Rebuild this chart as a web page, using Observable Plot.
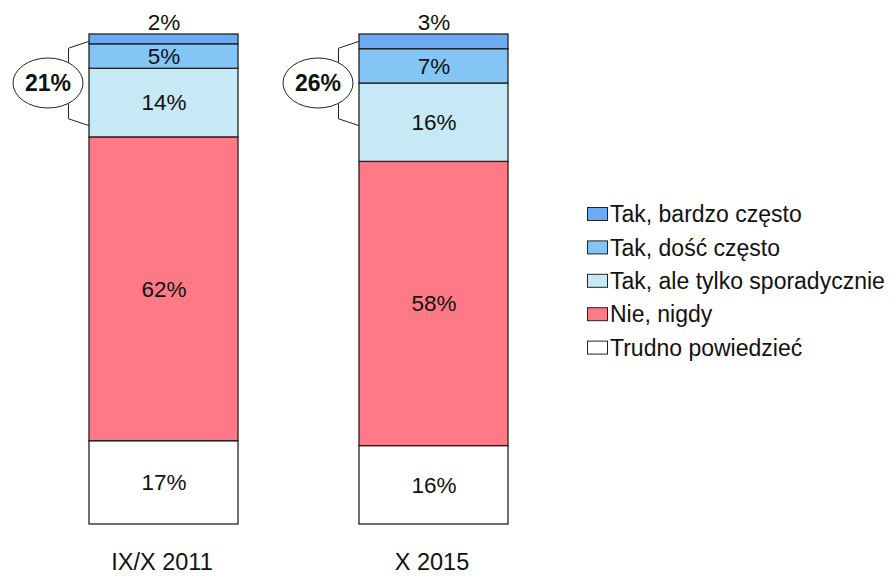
<!DOCTYPE html>
<html>
<head>
<meta charset="utf-8">
<script src="https://cdn.jsdelivr.net/npm/d3@7"></script>
<script src="https://cdn.jsdelivr.net/npm/@observablehq/plot@0.6"></script>
<style>
  html, body { margin: 0; padding: 0; background: #fff; }
  #chart { position: relative; width: 895px; height: 580px; }
  svg { font-family: "Liberation Sans", Arial, sans-serif; }
</style>
</head>
<body>
<div id="chart"></div>
<script>
const categories = ["IX/X 2011", "X 2015"];
const answers = ["Trudno powiedzieć", "Nie, nigdy", "Tak, ale tylko sporadycznie", "Tak, dość często", "Tak, bardzo często"];
const values2011 = [17, 62, 14, 5, 2];
const values2015 = [16, 58, 16, 7, 3];
const totals = [21, 26];
const colors = ["#ffffff", "#ff7a86", "#c6e9f5", "#84c5f5", "#6eaaf1"];
const legendOrder = ["Tak, bardzo często", "Tak, dość często", "Tak, ale tylko sporadycznie", "Nie, nigdy", "Trudno powiedzieć"];

const seriesByCat = [values2011, values2015];
const data = [];
categories.forEach((c, i) => {
  answers.forEach((a, j) => data.push({period: c, answer: a, value: seriesByCat[i][j]}));
});
const topAnswer = answers[answers.length - 1];
const inner = data.filter(d => d.answer !== topAnswer);
const tops = data.filter(d => d.answer === topAnswer);

const plot = Plot.plot({
  width: 895,
  height: 580,
  marginTop: 34,
  marginBottom: 56,
  marginLeft: 0,
  marginRight: 0,
  style: {fontFamily: '"Liberation Sans", Arial, sans-serif', background: "#fff"},
  x: {domain: categories, range: [88, 508], paddingInner: 0.45, paddingOuter: 0, axis: null},
  y: {domain: [0, 100], axis: null},
  color: {domain: answers, range: colors},
  marks: [
    Plot.barY(data, {x: "period", y: "value", fill: "answer", stroke: "#222", strokeWidth: 1.3, inset: 0}),
    Plot.text(inner, Plot.stackY({x: "period", y: "value", z: "period", text: d => d.value + "%", fontSize: 22.5, fill: "#111"})),
    Plot.text(tops, {x: "period", y: () => 100, text: d => d.value + "%", dy: -12, fontSize: 22.5, fill: "#111"}),
    Plot.text(categories, {x: d => d, frameAnchor: "bottom", dy: 45.5, dx: -2, text: d => d, fontSize: 23.5, fill: "#111"})
  ]
});

document.getElementById("chart").appendChild(plot);

const xs = plot.scale("x");
const ys = plot.scale("y");
const svg = d3.select(plot);
const ann = svg.append("g");
categories.forEach((c, i) => {
  const xl = xs.apply(c);
  const path = d3.path();
  path.moveTo(xl, ys.apply(98.5));
  path.lineTo(xl - 20.5, ys.apply(97.1));
  path.lineTo(xl - 20.5, ys.apply(82.7));
  path.lineTo(xl, ys.apply(81.3));
  ann.append("path").attr("d", path.toString()).attr("fill", "none").attr("stroke", "#222").attr("stroke-width", 1);
  const cx = xl - 41, cy = ys.apply(90);
  ann.append("ellipse").attr("cx", cx).attr("cy", cy).attr("rx", 35).attr("ry", 25)
    .attr("fill", "#fff").attr("stroke", "#222").attr("stroke-width", 1);
  ann.append("text").attr("x", cx).attr("y", cy).attr("dy", "0.35em").attr("text-anchor", "middle")
    .attr("font-size", 23).attr("font-weight", "bold").attr("fill", "#111").text(totals[i] + "%");
});

const colorOf = plot.scale("color");
const leg = svg.append("g").attr("text-anchor", "start");
legendOrder.forEach((a, i) => {
  const cy = 214 + i * 33.4;
  leg.append("rect").attr("x", 587.5).attr("y", cy - 6.5).attr("width", 20).attr("height", 13)
    .attr("fill", colorOf.apply(a)).attr("stroke", "#222").attr("stroke-width", 1);
  leg.append("text").attr("x", 610).attr("y", cy).attr("dy", "0.36em").attr("font-size", 23)
    .attr("text-anchor", "start").attr("fill", "#111").text(a);
});
</script>
</body>
</html>
